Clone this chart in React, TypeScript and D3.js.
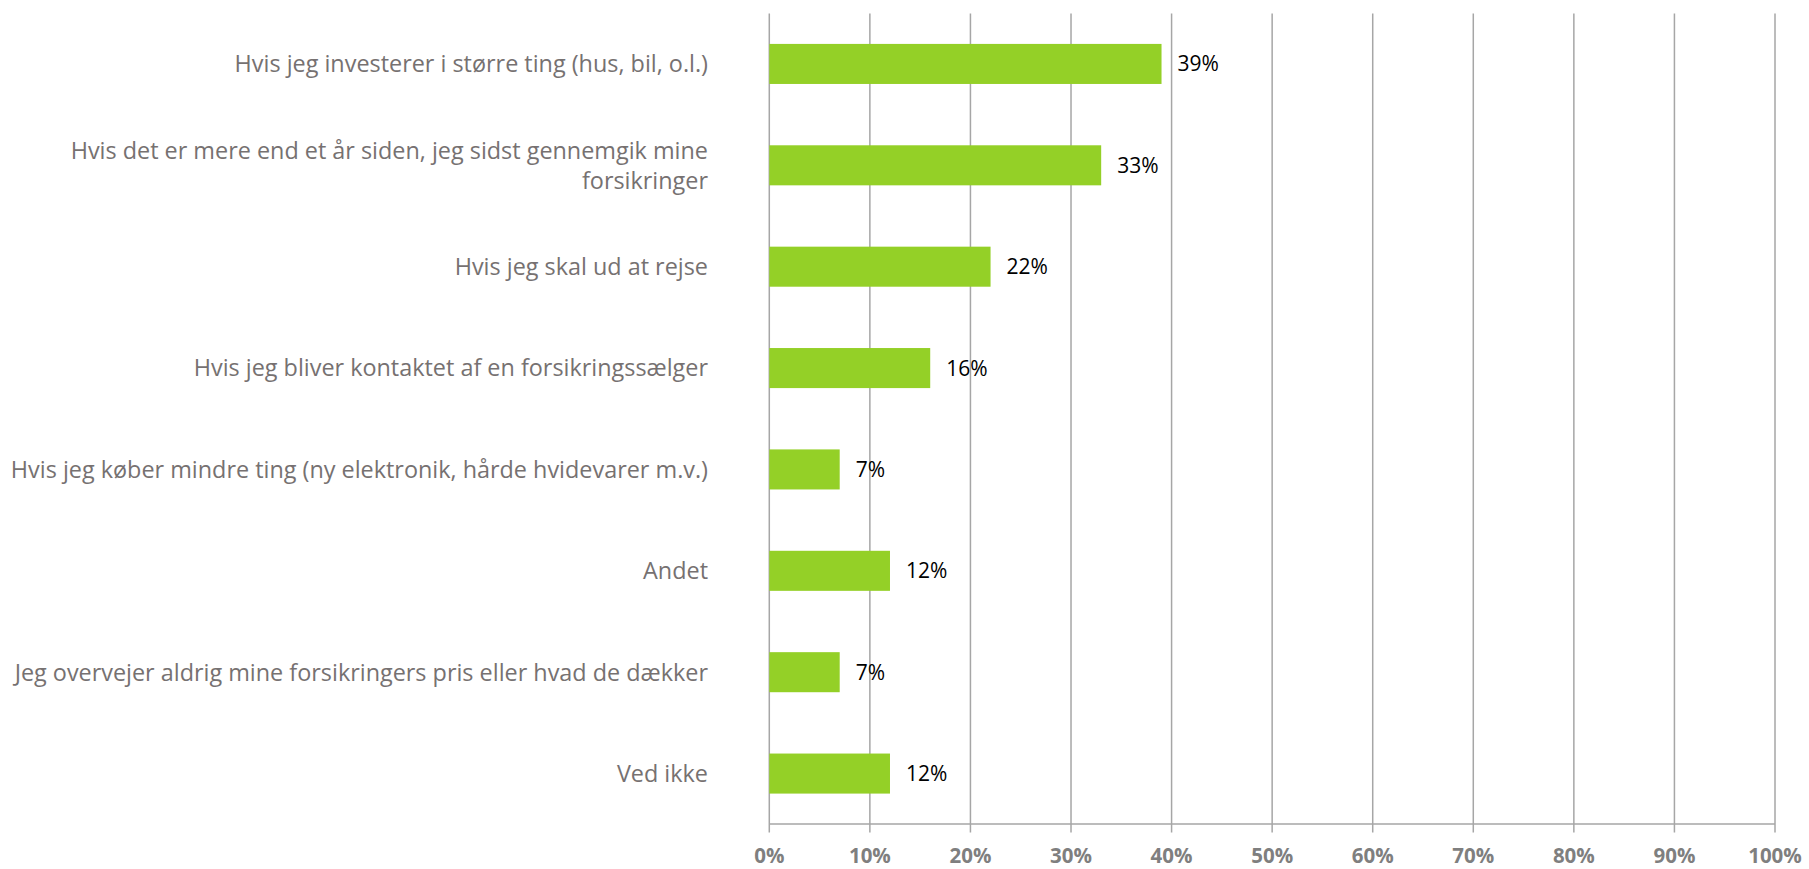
import React, { useEffect, useRef } from 'react';
import * as d3 from 'd3';

const categories = [
  'Hvis jeg investerer i større ting (hus, bil, o.l.)',
  'Hvis det er mere end et år siden, jeg sidst gennemgik mine|forsikringer',
  'Hvis jeg skal ud at rejse',
  'Hvis jeg bliver kontaktet af en forsikringssælger',
  'Hvis jeg køber mindre ting (ny elektronik, hårde hvidevarer m.v.)',
  'Andet',
  'Jeg overvejer aldrig mine forsikringers pris eller hvad de dækker',
  'Ved ikke',
];
const values = [39, 33, 22, 16, 7, 12, 7, 12];
const ticks = [0, 10, 20, 30, 40, 50, 60, 70, 80, 90, 100];

const W = 1809;
const H = 869;
const margin = { top: 13.5, right: 34, bottom: 45, left: 769.3 };
const font = '"Open Sans", "Noto Sans", sans-serif';

const App: React.FC = () => {
  const ref = useRef<SVGSVGElement>(null);

  useEffect(() => {
    const svg = d3.select(ref.current);
    svg.selectAll('*').remove();
    const x = d3.scaleLinear().domain([0, 100]).range([margin.left, W - margin.right]);
    const y = d3.scaleBand().domain(categories).range([margin.top, H - margin.bottom]).paddingInner(0.605).paddingOuter(0.3);
    const bottom = H - margin.bottom;
    const grid = '#a6a6a6';

    // gridlines (run through the axis and act as tick marks)
    svg.append('g')
      .selectAll('line')
      .data(ticks)
      .enter()
      .append('line')
      .attr('x1', (d) => x(d))
      .attr('x2', (d) => x(d))
      .attr('y1', margin.top)
      .attr('y2', bottom + 8.5)
      .attr('stroke', grid)
      .attr('stroke-width', 1.5);

    svg.append('line')
      .attr('x1', x(0))
      .attr('x2', x(100))
      .attr('y1', bottom)
      .attr('y2', bottom)
      .attr('stroke', grid)
      .attr('stroke-width', 1.5);

    svg.append('g')
      .selectAll('text')
      .data(ticks)
      .enter()
      .append('text')
      .attr('x', (d) => x(d))
      .attr('y', bottom + 38.5)
      .attr('text-anchor', 'middle')
      .attr('font-family', font)
      .attr('font-weight', 'bold')
      .attr('font-size', 20.5)
      .attr('fill', '#7f7f7f')
      .text((d) => `${d}%`);

    svg.append('g')
      .selectAll('rect')
      .data(values)
      .enter()
      .append('rect')
      .attr('x', x(0))
      .attr('y', (_, i) => y(categories[i])!)
      .attr('width', (d) => x(d) - x(0))
      .attr('height', y.bandwidth())
      .attr('fill', '#94d027');

    svg.append('g')
      .selectAll('text')
      .data(values)
      .enter()
      .append('text')
      .attr('x', (d) => x(d) + 16)
      .attr('y', (_, i) => y(categories[i])! + y.bandwidth() / 2)
      .attr('dy', '0.36em')
      .attr('font-family', font)
      .attr('font-size', 21)
      .attr('fill', '#000')
      .text((d) => `${d}%`);

    const labels = svg.append('g')
      .selectAll('text')
      .data(categories)
      .enter()
      .append('text')
      .attr('text-anchor', 'end')
      .attr('font-family', font)
      .attr('font-size', 23.4)
      .attr('fill', '#767171');

    labels.each(function (d) {
      const lines = d.split('|');
      const cy = y(d)! + y.bandwidth() / 2;
      const t = d3.select(this);
      lines.forEach((line, j) => {
        t.append('tspan')
          .attr('x', 708)
          .attr('y', cy + (j - (lines.length - 1) / 2) * 30)
          .attr('dy', '0.36em')
          .text(line);
      });
    });
  }, []);

  return (
    <svg ref={ref} width={W} height={H} style={{ position: 'absolute', left: 0, top: 0, background: '#fff' }} />
  );
};

export default App;
